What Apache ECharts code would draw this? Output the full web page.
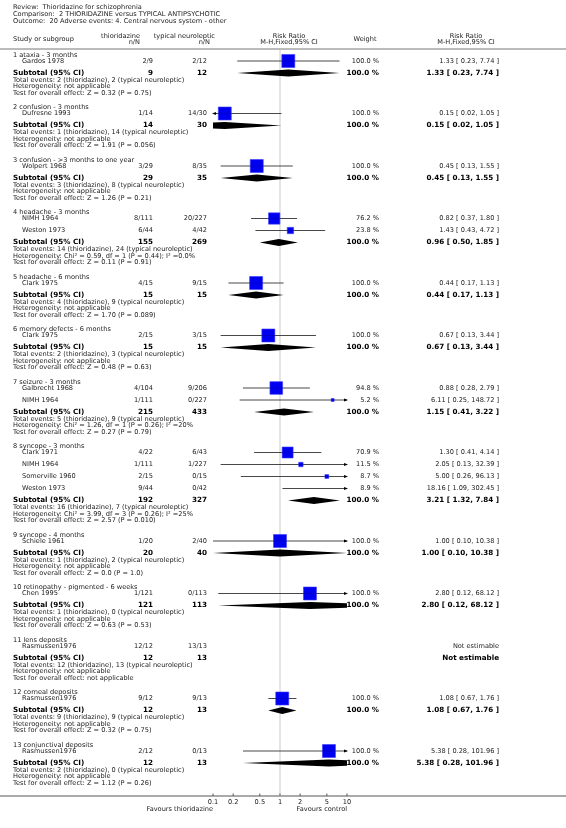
<!DOCTYPE html>
<html><head><meta charset="utf-8">
<script src="https://cdn.jsdelivr.net/npm/echarts@6/dist/echarts.min.js"></script>
<style>html,body{margin:0;padding:0;background:#fff}#c{width:566px;height:828px}</style>
</head><body><div id="c"></div>
<script>
// ---------------- DATA ----------------
const titleLines = [
  "Review:  Thioridazine for schizophrenia",
  "Comparison:  2 THIORIDAZINE versus TYPICAL ANTIPSYCHOTIC",
  "Outcome:  20 Adverse events: 4. Central nervous system - other"
];
const groupNames = [
  "1 ataxia - 3 months", "2 confusion - 3 months", "3 confusion - >3 months to one year",
  "4 headache - 3 months", "5 headache - 6 months", "6 memory defects - 6 months",
  "7 seizure - 3 months", "8 syncope - 3 months", "9 syncope - 4 months",
  "10 retinopathy - pigmented - 6 weeks", "11 lens deposits", "12 corneal deposits",
  "13 conjunctival deposits"
];
const studyNames = ["Gardos 1978","Dufresne 1993","Wolpert 1968","NIMH 1964","Weston 1973","Clark 1975","Clark 1975",
  "Galbrecht 1968","NIMH 1964","Clark 1971","NIMH 1964","Somerville 1960","Weston 1973","Schiele 1961","Chen 1995",
  "Rasmussen1976","Rasmussen1976","Rasmussen1976"];
const studyGroup = [0,1,2,3,3,4,5,6,6,7,7,7,7,8,9,10,11,12];
const thioNN = ["2/9","1/14","3/29","8/111","6/44","4/15","2/15","4/104","1/111","4/22","1/111","2/15","9/44","1/20","1/121","12/12","9/12","2/12"];
const typNN  = ["2/12","14/30","8/35","20/227","4/42","9/15","3/15","9/206","0/227","6/43","1/227","0/15","0/42","2/40","0/113","13/13","9/13","0/13"];
const studyWeight = [100.0,100.0,100.0,76.2,23.8,100.0,100.0,94.8,5.2,70.9,11.5,8.7,8.9,100.0,100.0,null,100.0,100.0];
const studyRR = [1.33,0.15,0.45,0.82,1.43,0.44,0.67,0.88,6.11,1.30,2.05,5.00,18.16,1.00,2.80,null,1.08,5.38];
const studyLo = [0.23,0.02,0.13,0.37,0.43,0.17,0.13,0.28,0.25,0.41,0.13,0.26,1.09,0.10,0.12,null,0.67,0.28];
const studyHi = [7.74,1.05,1.55,1.80,4.72,1.13,3.44,2.79,148.72,4.14,32.39,96.13,302.45,10.38,68.12,null,1.76,101.96];

const subThioN = [9,14,29,155,15,15,215,192,20,121,12,12,12];
const subTypN  = [12,30,35,269,15,15,433,327,40,113,13,13,13];
const subRR = [1.33,0.15,0.45,0.96,0.44,0.67,1.15,3.21,1.00,2.80,null,1.08,5.38];
const subLo = [0.23,0.02,0.13,0.50,0.17,0.13,0.41,1.32,0.10,0.12,null,0.67,0.28];
const subHi = [7.74,1.05,1.55,1.85,1.13,3.44,3.22,7.84,10.38,68.12,null,1.76,101.96];
const eventsThio = [2,1,3,14,4,2,5,16,1,1,12,9,2];
const eventsTyp  = [2,14,8,24,9,3,9,7,2,0,13,9,0];
const heterogeneity = ["not applicable","not applicable","not applicable",
  "Chi\u00b2 = 0.59, df = 1 (P = 0.44); I\u00b2 =0.0%","not applicable","not applicable",
  "Chi\u00b2 = 1.26, df = 1 (P = 0.26); I\u00b2 =20%","Chi\u00b2 = 3.99, df = 3 (P = 0.26); I\u00b2 =25%",
  "not applicable","not applicable","not applicable","not applicable","not applicable"];
const overallTest = ["Z = 0.32 (P = 0.75)","Z = 1.91 (P = 0.056)","Z = 1.26 (P = 0.21)","Z = 0.11 (P = 0.91)",
  "Z = 1.70 (P = 0.089)","Z = 0.48 (P = 0.63)","Z = 0.27 (P = 0.79)","Z = 2.57 (P = 0.010)","Z = 0.0 (P = 1.0)",
  "Z = 0.63 (P = 0.53)","not applicable","Z = 0.32 (P = 0.75)","Z = 1.12 (P = 0.26)"];
const tickValues = [0.1,0.2,0.5,1,2,5,10];
const tickLabels = ["0.1","0.2","0.5","1","2","5","10"];
const favoursLeft = "Favours thioridazine";
const favoursRight = "Favours control";
const expLabel = "thioridazine", ctlLabel = "typical neuroleptic";

// ---------------- LAYOUT ----------------
const W = 566, H = 828;
const FONT = "'DejaVu Sans', Verdana, sans-serif";
const SMALL = 6.6, BOLD = 7.2;
const X = {left:13, study:22, thio:153, typ:207, weight:379, ci:499, plotL:213, plotR:347};
const AXIS_Y = 796, HEAD_LINE = 49;
const labelY = [], studyY = [], subY = [], totY = [], hetY = [], testY = [];
(function(){
  let y = 55;
  for (let g = 0; g < groupNames.length; g++) {
    labelY[g] = y; y += 6;
    for (let i = 0; i < studyGroup.length; i++) if (studyGroup[i] === g) { studyY[i] = y; y += 12; }
    subY[g] = y; totY[g] = y + 7; hetY[g] = y + 13.5; testY[g] = y + 20; y = testY[g] + 14.5;
  }
})();

const graphics = [];
function txt(s, x, y, opt) {
  opt = opt || {};
  graphics.push({type:'text', silent:true, style:{text:s, x:x, y:y, align:opt.align||'left', verticalAlign:'middle',
    fontSize:opt.size||SMALL, fontWeight:opt.bold?'bold':'normal', fontFamily:FONT, fill:opt.color||(opt.bold?'#000':'#222')}});
}
function fmtCI(r,l,h){ return r.toFixed(2)+" [ "+l.toFixed(2)+", "+h.toFixed(2)+" ]"; }

// header
titleLines.forEach((t,i)=>txt(t, X.left, 7 + i*7));
txt("Study or subgroup", X.left, 39);
txt(expLabel, 140, 36, {align:'right'}); txt("n/N", 140, 42.5, {align:'right'});
txt(ctlLabel, 215, 36, {align:'right'}); txt("n/N", 210, 42.5, {align:'right'});
txt("Risk Ratio", 289, 36, {align:'center'}); txt("M-H,Fixed,95% CI", 289, 42.5, {align:'center'});
txt("Weight", 365, 39, {align:'center'});
txt("Risk Ratio", 466, 36, {align:'center'}); txt("M-H,Fixed,95% CI", 466, 42.5, {align:'center'});
graphics.push({type:'line', silent:true, shape:{x1:0,y1:HEAD_LINE,x2:W,y2:HEAD_LINE}, style:{stroke:'#777',lineWidth:1}});
graphics.push({type:'line', silent:true, shape:{x1:0,y1:AXIS_Y,x2:W,y2:AXIS_Y}, style:{stroke:'#555',lineWidth:1}});

// table text
for (let g = 0; g < groupNames.length; g++) {
  txt(groupNames[g], X.left, labelY[g]);
  txt("Subtotal (95% CI)", X.left, subY[g], {bold:true, size:BOLD});
  txt(String(subThioN[g]), X.thio, subY[g], {bold:true, size:BOLD, align:'right'});
  txt(String(subTypN[g]), X.typ, subY[g], {bold:true, size:BOLD, align:'right'});
  if (subRR[g] != null) {
    txt("100.0 %", X.weight, subY[g], {bold:true, size:BOLD, align:'right'});
    txt(fmtCI(subRR[g],subLo[g],subHi[g]), X.ci, subY[g], {bold:true, size:BOLD, align:'right'});
  } else {
    txt("Not estimable", X.ci, subY[g], {bold:true, size:BOLD, align:'right'});
  }
  txt("Total events: "+eventsThio[g]+" (thioridazine), "+eventsTyp[g]+" (typical neuroleptic)", X.left, totY[g]);
  txt("Heterogeneity: "+heterogeneity[g], X.left, hetY[g]);
  txt("Test for overall effect: "+overallTest[g], X.left, testY[g]);
}
for (let i = 0; i < studyNames.length; i++) {
  txt(studyNames[i], X.study, studyY[i]);
  txt(thioNN[i], X.thio, studyY[i], {align:'right'});
  txt(typNN[i], X.typ, studyY[i], {align:'right'});
  if (studyRR[i] != null) {
    txt(studyWeight[i].toFixed(1)+" %", X.weight, studyY[i], {align:'right'});
    txt(fmtCI(studyRR[i],studyLo[i],studyHi[i]), X.ci, studyY[i], {align:'right'});
  } else {
    txt("Not estimable", X.ci, studyY[i], {align:'right'});
  }
}
txt(favoursLeft, X.plotL, 809, {align:'right'});
txt(favoursRight, X.plotR, 809, {align:'right'});

// ---------------- SERIES ----------------
const XMIN = 0.1, XMAX = 10;
const studyData = studyNames.map((n,i)=>[studyRR[i]==null?NaN:studyRR[i], studyLo[i]==null?NaN:studyLo[i],
  studyHi[i]==null?NaN:studyHi[i], studyY[i], studyWeight[i]==null?0:studyWeight[i]]);
const subData = groupNames.map((n,g)=>[subRR[g]==null?NaN:subRR[g], subLo[g]==null?NaN:subLo[g], subHi[g]==null?NaN:subHi[g], subY[g]]);

function renderStudy(params, api) {
  const rr = api.value(0), lo = api.value(1), hi = api.value(2), y = api.value(3), w = api.value(4);
  if (isNaN(rr)) return null;
  const a = api.coord([Math.max(lo, XMIN), y]), b = api.coord([Math.min(hi, XMAX), y]);
  const ch = [];
  ch.push({type:'line', shape:{x1:a[0],y1:a[1],x2:b[0],y2:b[1]}, style:{stroke:'#333',lineWidth:0.9}});
  if (hi > XMAX) ch.push({type:'polygon', shape:{points:[[b[0]+1,b[1]],[b[0]-3,b[1]-1.6],[b[0]-3,b[1]+1.6]]}, style:{fill:'#000'}});
  if (lo < XMIN) ch.push({type:'polygon', shape:{points:[[a[0]-1,a[1]],[a[0]+3,a[1]-1.6],[a[0]+3,a[1]+1.6]]}, style:{fill:'#000'}});
  if (rr >= XMIN && rr <= XMAX) {
    const c = api.coord([rr, y]);
    const s = Math.max(3, 13 * Math.sqrt(w / 100));
    ch.push({type:'rect', shape:{x:c[0]-s/2, y:c[1]-s/2, width:s, height:s}, style:{fill:'#0000f0', stroke:'#3b3bff', lineWidth:0.6}});
    ch.push({type:'line', shape:{x1:c[0]-s/2,y1:c[1],x2:c[0]+s/2,y2:c[1]}, style:{stroke:'#000080',lineWidth:0.6, opacity:0.6}});
  }
  return {type:'group', children:ch};
}
function renderDiamond(params, api) {
  const rr = api.value(0), lo = api.value(1), hi = api.value(2), y = api.value(3);
  if (isNaN(rr)) return null;
  const HH = 3.6;
  const xL = api.coord([lo, y])[0], xC = api.coord([rr, y])[0], xR = api.coord([hi, y])[0];
  const yy = api.coord([rr, y])[1];
  const X0 = api.coord([XMIN, y])[0], X1 = api.coord([XMAX, y])[0];
  const h = x => x <= xC ? HH * (x - xL) / (xC - xL) : HH * (xR - x) / (xR - xC);
  const a = Math.max(xL, X0), b = Math.min(xR, X1);
  const top = [[a, yy - h(a)]], bot = [[a, yy + h(a)]];
  if (xC > a && xC < b) { top.push([xC, yy - HH]); bot.push([xC, yy + HH]); }
  top.push([b, yy - h(b)]); bot.push([b, yy + h(b)]);
  const pts = top.concat(bot.reverse());
  return {type:'polygon', shape:{points:pts}, style:{fill:'#000'}};
}
function renderRef(params, api) {
  const a = api.coord([api.value(0), HEAD_LINE + 1]), b = api.coord([api.value(0), AXIS_Y]);
  return {type:'line', shape:{x1:a[0],y1:a[1],x2:b[0],y2:b[1]}, style:{stroke:'#dcdcdc',lineWidth:1.5}};
}
function renderTick(params, api) {
  const p = api.coord([api.value(0), AXIS_Y]);
  return {type:'group', children:[
    {type:'line', shape:{x1:p[0],y1:p[1]-2.5,x2:p[0],y2:p[1]}, style:{stroke:'#555',lineWidth:1}},
    {type:'text', style:{text:tickLabels[params.dataIndex], x:p[0], y:p[1]+6, align:'center', verticalAlign:'middle',
      fontSize:SMALL, fontFamily:FONT, fill:'#222'}}
  ]};
}

const chart = echarts.init(document.getElementById('c'), null, {renderer:'canvas', width:W, height:H});
chart.setOption({
  animation:false,
  backgroundColor:'#fff',
  grid:{left:X.plotL, right:W - X.plotR, top:0, bottom:0},
  xAxis:{type:'log', logBase:10, min:XMIN, max:XMAX, show:false},
  yAxis:{type:'value', min:0, max:H, inverse:true, show:false},
  series:[
    {type:'custom', clip:false, data:[[1]], renderItem:renderRef, silent:true, z:1},
    {type:'custom', clip:false, data:tickValues.map(v=>[v]), renderItem:renderTick, silent:true, z:2},
    {type:'custom', clip:false, data:subData, renderItem:renderDiamond, silent:true, z:3},
    {type:'custom', clip:false, data:studyData, renderItem:renderStudy, silent:true, z:4}
  ],
  graphic:graphics
});
</script></body></html>
